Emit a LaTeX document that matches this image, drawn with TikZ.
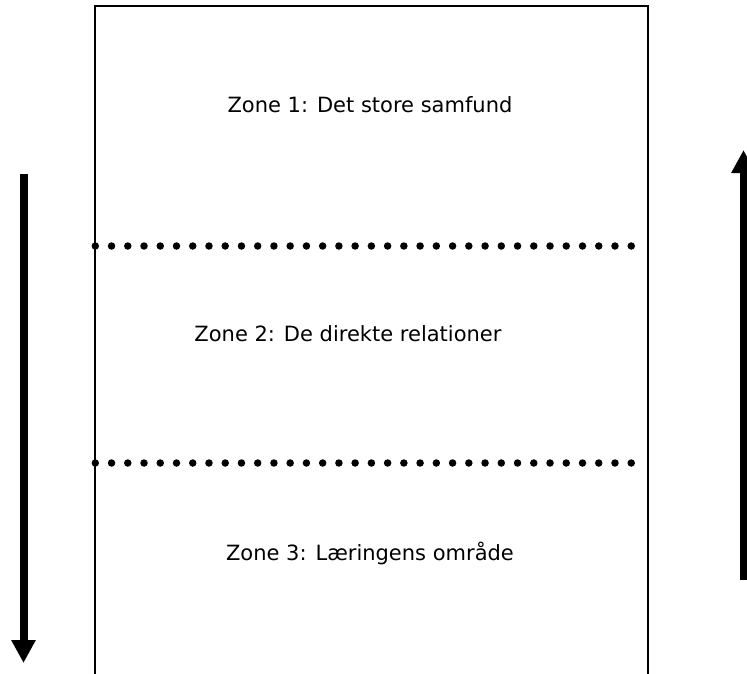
\documentclass[tikz,border=0pt]{standalone}
\usepackage{fontspec}
\setmainfont{DejaVu Sans}
\usetikzlibrary{arrows.meta}
\tikzset{
  zonetext/.style={font=\fontsize{21}{25}\selectfont, inner sep=0pt},
  dotline/.style={line width=7.5pt, line cap=round, dash pattern=on 0pt off 16.24pt},
  bigarrow/.style={line width=8pt, -{Triangle[length=23pt,width=23pt]}}
}
\begin{document}
\begin{tikzpicture}[x=1pt,y=-1pt]
  \useasboundingbox (0,0) rectangle (747,674);
      %%box
      \draw[line width=2pt](95, 674) -- (95, 6) -- (647.5, 6) -- (647.5, 674);
      %%dotted lines
      \draw[dotline](95.3, 246) -- (632, 246);
      \draw[dotline](95.3, 463) -- (632, 463);
      %%zones
      \node[zonetext] (zone1) at (370, 105) {Zone 1: Det store samfund};
      \node[zonetext] (zone2) at (348, 334) {Zone 2: De direkte relationer};
      \node[zonetext] (zone3) at (370, 553) {Zone 3: Læringens område};
      %%arrows
      \coordinate (downtop) at (23.5, 174);
      \coordinate (downend) at (23.5, 663);
      \coordinate (upbot) at (743.5, 580);
      \coordinate (uptop) at (743.5, 150);
      \draw[bigarrow](downtop) -- (downend);
      \draw[bigarrow](upbot) -- (uptop);
\end{tikzpicture}
\end{document}
